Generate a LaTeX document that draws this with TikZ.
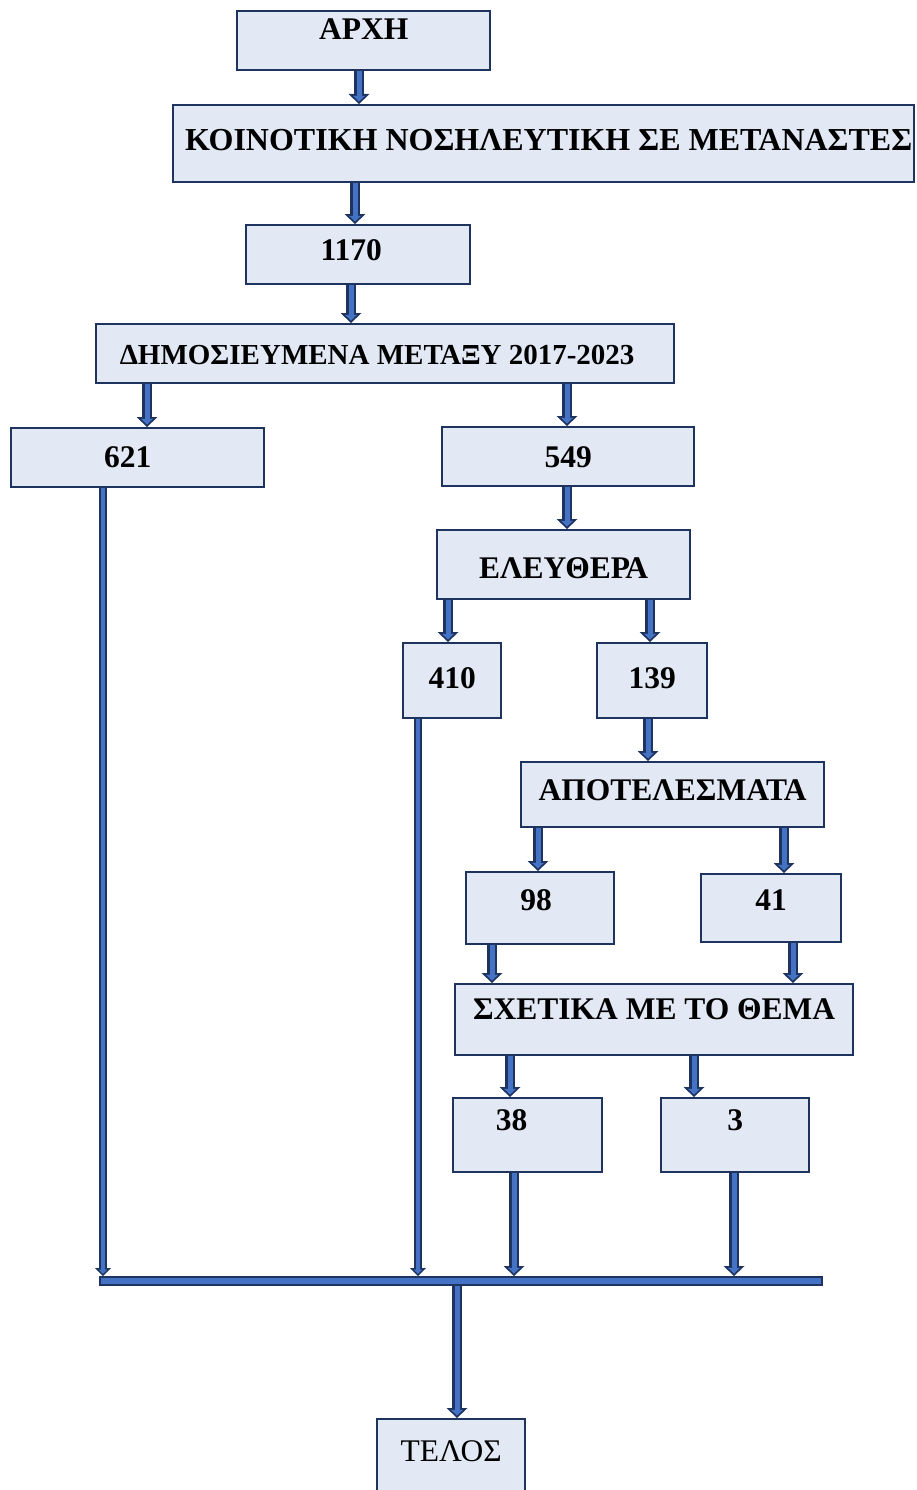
\documentclass[tikz,border=0pt]{standalone}
\usepackage{fontspec}
\setmainfont{Liberation Serif}
\usetikzlibrary{arrows.meta,positioning}
\definecolor{boxfill}{RGB}{226,233,245}
\definecolor{boxline}{RGB}{30,52,95}
\definecolor{arrowfill}{RGB}{68,114,196}
\tikzset{
  box/.style={draw=boxline, fill=boxfill, line width=2.3pt, inner sep=0pt, anchor=north west,
    font=\fontsize{31.5}{36}\selectfont\bfseries},
  flow/.style={arrowfill, line width=5pt, -{Triangle[width=12pt,length=5.7pt,line width=0pt]}, shorten >=2.5pt,
    preaction={draw=boxline, line width=9.5pt, -{Triangle[width=21pt,length=10pt,line width=0pt]}, shorten >=0pt}},
  thinflow/.style={arrowfill, line width=3.8pt, -{Triangle[width=9pt,length=4.3pt,line width=0pt]}, shorten >=2.2pt,
    preaction={draw=boxline, line width=8pt, -{Triangle[width=16pt,length=8pt,line width=0pt]}, shorten >=0pt}}
}
\begin{document}
\begin{tikzpicture}[x=1pt, y=-1pt]
  \clip (0,0) rectangle (916,1490);
  % boxes
  \node[box, minimum width=253pt, text height=28pt, text depth=31pt] (arxi) at (236,10) {ΑΡΧΗ};
  \node[box, minimum width=741pt, text height=45pt, text depth=32pt, font=\fontsize{32}{37}\selectfont\bfseries] (koin) at (172,104) {ΚΟΙΝΟΤΙΚΗ ΝΟΣΗΛΕΥΤΙΚΗ ΣΕ ΜΕΤΑΝΑΣΤΕΣ\hspace*{-10pt}};
  \node[box, minimum width=224pt, text height=35pt, text depth=24pt] (n1170) at (245,224) {1170\hspace*{14pt}};
  \node[box, minimum width=578pt, text height=40pt, text depth=19pt, font=\fontsize{29}{34}\selectfont\bfseries] (dim) at (95,323) {ΔΗΜΟΣΙΕΥΜΕΝΑ ΜΕΤΑΞΥ 2017-2023\hspace*{16pt}};
  \node[box, minimum width=253pt, text height=39pt, text depth=20pt] (n621) at (10,427) {621\hspace*{20pt}};
  \node[box, minimum width=252pt, text height=40pt, text depth=19pt] (n549) at (441,426) {549};
  \node[box, minimum width=253pt, text height=48pt, text depth=21pt] (elef) at (436,529) {ΕΛΕΥΘΕΡΑ};
  \node[box, minimum width=98pt, text height=45pt, text depth=30pt] (n410) at (402,642) {410};
  \node[box, minimum width=110pt, text height=45pt, text depth=30pt] (n139) at (596,642) {139};
  \node[box, minimum width=303pt, text height=38pt, text depth=27pt] (apot) at (520,761) {ΑΠΟΤΕΛΕΣΜΑΤΑ};
  \node[box, minimum width=148pt, text height=38pt, text depth=34pt] (n98) at (465,871) {98\hspace*{8pt}};
  \node[box, minimum width=140pt, text height=36pt, text depth=32pt] (n41) at (700,873) {41};
  \node[box, minimum width=398pt, text height=35pt, text depth=36pt] (sxet) at (454,983) {ΣΧΕΤΙΚΑ ΜΕ ΤΟ ΘΕΜΑ};
  \node[box, minimum width=149pt, text height=32pt, text depth=42pt] (n38) at (452,1097) {38\hspace*{32pt}};
  \node[box, minimum width=148pt, text height=32pt, text depth=42pt] (n3) at (660,1097) {3};
  \node[box, minimum width=148pt, text height=42pt, text depth=50pt, font=\fontsize{31.5}{36}\selectfont] (telos) at (376,1418) {ΤΕΛΟΣ};
  % collecting bar
  \node[draw=boxline, fill=arrowfill, line width=2.2pt, inner sep=0pt, anchor=north west,
    minimum width=722pt, minimum height=8pt] (bar) at (99,1276) {};

  % arrow columns
  \foreach \n/\x in {a/359, b/355, c/351, d/147, e/567, f/448, g/650, h/648, i/538, j/784,
                     k/492, l/793, m/510, n/694, o/103, p/418, q/514, r/734, s/457}
    \coordinate (x\n) at (\x,0);

  \draw[flow] (xa |- arxi.south) -- (xa |- koin.north);
  \draw[flow] (xb |- koin.south) -- (xb |- n1170.north);
  \draw[flow] (xc |- n1170.south) -- (xc |- dim.north);
  \draw[flow] (xd |- dim.south) -- (xd |- n621.north);
  \draw[flow] (xe |- dim.south) -- (xe |- n549.north);
  \draw[flow] (xe |- n549.south) -- (xe |- elef.north);
  \draw[flow] (xf |- elef.south) -- (xf |- n410.north);
  \draw[flow] (xg |- elef.south) -- (xg |- n139.north);
  \draw[flow] (xh |- n139.south) -- (xh |- apot.north);
  \draw[flow] (xi |- apot.south) -- (xi |- n98.north);
  \draw[flow] (xj |- apot.south) -- (xj |- n41.north);
  \draw[flow] (xk |- n98.south) -- (xk |- sxet.north);
  \draw[flow] (xl |- n41.south) -- (xl |- sxet.north);
  \draw[flow] (xm |- sxet.south) -- (xm |- n38.north);
  \draw[flow] (xn |- sxet.south) -- (xn |- n3.north);
  % into the bar
  \draw[thinflow] (xo |- n621.south) -- (xo |- bar.north);
  \draw[thinflow] (xp |- n410.south) -- (xp |- bar.north);
  \draw[flow] (xq |- n38.south) -- (xq |- bar.north);
  \draw[flow] (xr |- n3.south) -- (xr |- bar.north);
  \draw[flow] (xs |- bar.south) -- (xs |- telos.north);
\end{tikzpicture}
\end{document}
